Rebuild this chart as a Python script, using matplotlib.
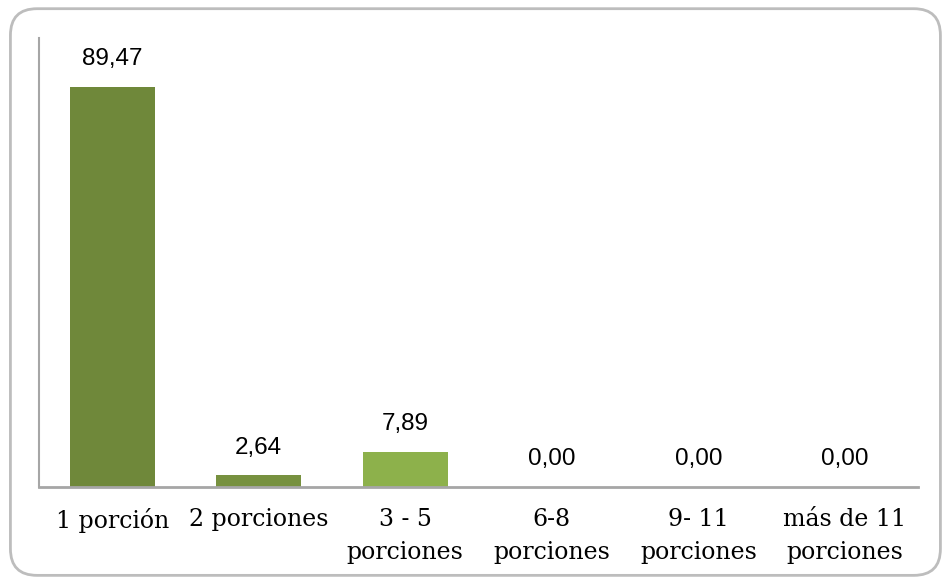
import matplotlib.pyplot as plt
from matplotlib.patches import FancyBboxPatch

categorias = ["1 porción", "2 porciones", "3 - 5\nporciones", "6-8\nporciones",
              "9- 11\nporciones", "más de 11\nporciones"]
porcentajes = [89.47, 2.64, 7.89, 0.00, 0.00, 0.00]
colores = ["#6F883A", "#77913F", "#8DB14B", "#8DB14B", "#8DB14B", "#8DB14B"]

fig = plt.figure(figsize=(9.48, 5.8), dpi=100)

# marco redondeado alrededor del grafico
marco = FancyBboxPatch((0.011, 0.008), 0.981, 0.977,
                       boxstyle="round,pad=0,rounding_size=0.028",
                       transform=fig.transFigure, facecolor="none",
                       edgecolor="#BDBDBD", linewidth=2, mutation_aspect=948 / 580,
                       zorder=-1)
fig.patches.append(marco)

ax = fig.add_axes([0.0411, 0.1603, 0.9274, 0.7742])
ax.set_facecolor("none")
x = range(len(categorias))
barras = ax.bar(x, porcentajes, width=0.58, color=colores)

ax.set_xlim(-0.5, len(categorias) - 0.5)
ax.set_ylim(0, 100.4)

for xi, v in zip(x, porcentajes):
    ax.annotate(f"{v:.2f}".replace(".", ","), (xi, v), xytext=(0, 12),
                textcoords="offset points", ha="center", va="bottom",
                fontsize=17.5, family="Liberation Sans")

ax.set_xticks(list(x))
ax.set_xticklabels(categorias, fontsize=17, family="DejaVu Serif", linespacing=1.55)
ax.tick_params(axis="x", length=0, pad=15)
ax.set_yticks([])

for lado in ["top", "right"]:
    ax.spines[lado].set_visible(False)
ax.spines["left"].set_color("#A6A6A6")
ax.spines["bottom"].set_color("#A6A6A6")
ax.spines["left"].set_linewidth(1.5)
ax.spines["bottom"].set_linewidth(2)

fig.savefig("out.png", dpi=100)
